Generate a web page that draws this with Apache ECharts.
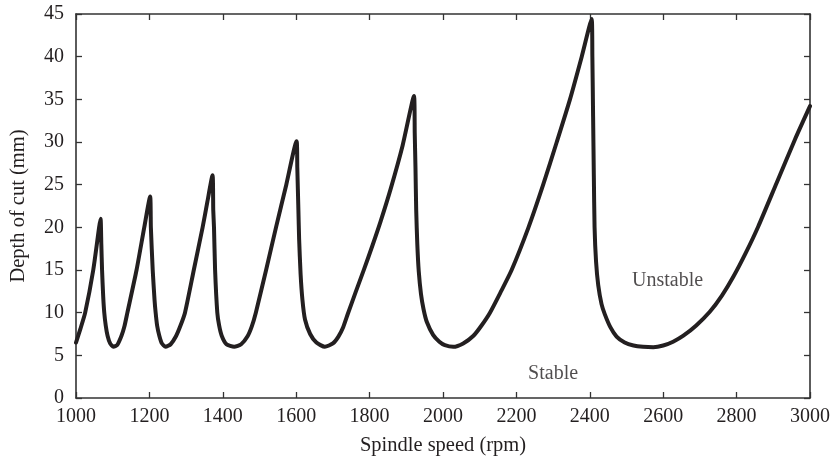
<!DOCTYPE html>
<html>
<head>
<meta charset="utf-8">
<script src="https://cdn.jsdelivr.net/npm/echarts@6/dist/echarts.min.js"></script>
<style>html,body{margin:0;padding:0;background:#fff}#c{width:833px;height:461px}</style>
</head>
<body>
<div id="c"></div>
<script>
// Spindle speed (rpm) and limiting depth of cut (mm)
const rpm = [
  1000, 1012, 1025, 1047, 1063, 1067,
  1069, 1071, 1074, 1077, 1081, 1086, 1093, 1102, 1112, 1124, 1132, 1140, 1165, 1186, 1202,
  1204, 1209, 1214, 1217, 1221, 1227, 1234, 1244, 1258, 1272, 1284, 1297, 1321, 1345, 1358, 1372,
  1374, 1376, 1379, 1385, 1390, 1397, 1410, 1431, 1450, 1467, 1479, 1490, 1518, 1545, 1573, 1601,
  1603, 1606, 1608, 1612, 1617, 1624, 1638, 1655, 1678, 1700, 1715, 1728, 1741, 1762, 1785, 1808, 1830, 1858, 1890, 1921,
  1923, 1925, 1927, 1930, 1934, 1940, 1947, 1956, 1973, 1990, 2005, 2028, 2055, 2083, 2105, 2128, 2157, 2187, 2233, 2273, 2310, 2346, 2378, 2405,
  2407, 2409, 2411, 2413, 2417, 2423, 2432, 2441, 2456, 2473, 2495, 2519, 2545, 2573, 2600, 2627, 2655, 2690, 2727, 2760, 2791, 2825, 2859, 2909, 2959, 3000
];
const depth = [
  6.5, 8.1, 10.0, 15.0, 20.0, 21.0,
  18.0, 15.0, 12.0, 10.0, 8.5, 7.3, 6.4, 6.0, 6.2, 7.3, 8.4, 10.0, 15.0, 20.0, 23.6,
  20.0, 15.0, 11.5, 10.0, 8.5, 7.3, 6.4, 6.0, 6.3, 7.2, 8.4, 10.0, 15.0, 20.0, 23.0, 26.1,
  22.0, 20.0, 15.0, 10.0, 8.5, 7.3, 6.3, 6.0, 6.3, 7.2, 8.4, 10.0, 15.0, 20.0, 25.0, 30.1,
  27.0, 22.0, 18.6, 14.5, 11.5, 9.2, 7.5, 6.5, 6.0, 6.4, 7.2, 8.3, 9.9, 12.4, 15.1, 17.9, 20.7, 24.6, 29.6, 35.4,
  31.0, 27.0, 22.0, 18.0, 14.8, 12.2, 10.4, 8.9, 7.4, 6.6, 6.2, 6.0, 6.4, 7.3, 8.5, 10.0, 12.4, 15.0, 20.0, 25.0, 30.0, 35.0, 40.0, 44.4,
  40.0, 33.0, 26.0, 20.0, 16.0, 13.2, 11.0, 9.8, 8.3, 7.2, 6.5, 6.15, 6.0, 5.95, 6.15, 6.6, 7.3, 8.5, 10.1, 12.0, 14.2, 17.0, 20.1, 25.2, 30.3, 34.2
];
const xTicks = { min: 1000, max: 3000, step: 200 };
const yTicks = { min: 0, max: 45, step: 5 };
const regionLabels = ['Unstable', 'Stable'];
const regionRpm = [2612, 2300];
const regionDepth = [13.7, 2.8];

const font = '"Liberation Serif", "Times New Roman", serif';
const ink = '#231f20';
const axisCol = '#333333';

const curve = rpm.map((x, i) => [x, depth[i]]);
const labelsData = regionLabels.map((t, i) => ({ value: [regionRpm[i], regionDepth[i]], name: t }));

const baseAxis = {
  axisLine: { show: true, onZero: false, lineStyle: { color: axisCol, width: 1.6 } },
  axisTick: { show: true, inside: true, length: 6, lineStyle: { color: axisCol, width: 1.3 } },
  splitLine: { show: false },
  nameTextStyle: { fontFamily: font, fontSize: 20.5, color: ink },
  axisLabel: { fontFamily: font, fontSize: 20, color: ink, formatter: v => String(v) }
};

const chart = echarts.init(document.getElementById('c'), null, { renderer: 'canvas' });
chart.setOption({
  animation: false,
  backgroundColor: '#ffffff',
  grid: { left: 76, top: 14, right: 23, bottom: 62, containLabel: false },
  xAxis: [
    Object.assign({}, baseAxis, {
      type: 'value', position: 'bottom', min: xTicks.min, max: xTicks.max, interval: xTicks.step,
      name: 'Spindle speed (rpm)', nameLocation: 'middle', nameGap: 37,
      axisLabel: Object.assign({}, baseAxis.axisLabel, { margin: 9 })
    }),
    Object.assign({}, baseAxis, {
      type: 'value', position: 'top', min: xTicks.min, max: xTicks.max, interval: xTicks.step,
      axisLabel: { show: false }
    })
  ],
  yAxis: [
    Object.assign({}, baseAxis, {
      type: 'value', position: 'left', min: yTicks.min, max: yTicks.max, interval: yTicks.step,
      name: 'Depth of cut (mm)', nameLocation: 'middle', nameGap: 47,
      axisLabel: Object.assign({}, baseAxis.axisLabel, { margin: 12 })
    }),
    Object.assign({}, baseAxis, {
      type: 'value', position: 'right', min: yTicks.min, max: yTicks.max, interval: yTicks.step,
      axisLabel: { show: false }
    })
  ],
  series: [
    {
      type: 'line',
      data: curve,
      xAxisIndex: 0, yAxisIndex: 0,
      smooth: 0.2,
      showSymbol: false,
      lineStyle: { color: ink, width: 4, join: 'round', cap: 'round' },
      z: 3
    },
    {
      type: 'scatter',
      data: labelsData,
      xAxisIndex: 0, yAxisIndex: 0,
      symbolSize: 0,
      label: {
        show: true, position: 'inside', formatter: p => p.name,
        fontFamily: font, fontSize: 20, color: ink
      },
      silent: true
    }
  ]
});
</script>
</body>
</html>
